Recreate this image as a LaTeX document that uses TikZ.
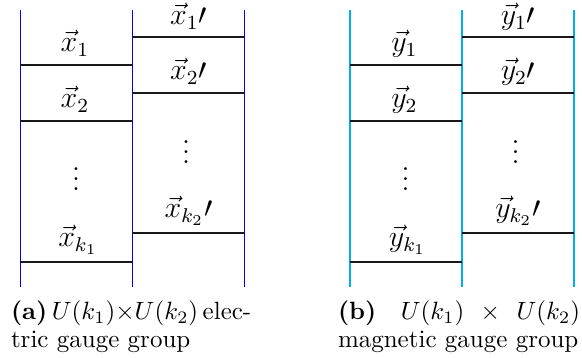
\documentclass[tikz,border=0pt]{standalone}
\usepackage{amsmath}
\begin{document}
\begin{tikzpicture}[x=0.40pt,y=-0.40pt,
  rail/.style={line width=0.75pt},
  rung/.style={line width=0.95pt, black!90},
  lab/.style={anchor=base, inner sep=0pt, outer sep=0pt, font=\fontsize{11.7}{13.5}\selectfont},
  captext/.style={anchor=base west, inner sep=0pt, outer sep=0pt}]
\useasboundingbox (0,0) rectangle (582,358);
\foreach \p/\ox/\col/\v in {a/0/blue/x, b/329.5/cyan/y}{
  \begin{scope}[shift={(\ox,0)}]
    % rails
    \coordinate (\p-t1) at (20.5,10);  \coordinate (\p-b1) at (20.5,287);
    \coordinate (\p-t2) at (132.5,10); \coordinate (\p-b2) at (132.5,287);
    \coordinate (\p-t3) at (244.5,10); \coordinate (\p-b3) at (244.5,287);
    \draw[rail,\col] (\p-t1) -- (\p-b1);
    \draw[rail,\col] (\p-t2) -- (\p-b2);
    \draw[rail,\col] (\p-t3) -- (\p-b3);
    % left column rungs
    \foreach \i/\yy in {1/65,2/121,3/262}{
      \coordinate (\p-L\i a) at (20.5,\yy);
      \coordinate (\p-L\i b) at (132.5,\yy);
      \draw[rung] (\p-L\i a) -- (\p-L\i b);
    }
    % right column rungs
    \foreach \i/\yy in {1/37,2/93,3/233}{
      \coordinate (\p-R\i a) at (132.5,\yy);
      \coordinate (\p-R\i b) at (244.5,\yy);
      \draw[rung] (\p-R\i a) -- (\p-R\i b);
    }
    % labels
    \node[lab] (\p-l1) at (75,52) {$\vec{\v}_1$};
    \node[lab] (\p-l2) at (75,108) {$\vec{\v}_2$};
    \node[lab] (\p-ld) at (76,190.5) {$\vdots$};
    \node[lab] (\p-lk) at (78,247) {$\vec{\v}_{k_1}$};
    \node[lab] (\p-r1) at (188.5,25) {$\vec{\v}_1\prime$};
    \node[lab] (\p-r2) at (188.5,80) {$\vec{\v}_2\prime$};
    \node[lab] (\p-rd) at (186,163.5) {$\vdots$};
    \node[lab] (\p-rk) at (188.5,218) {$\vec{\v}_{k_2}\prime$};
  \end{scope}
}
% captions
\node[captext] (capa1) at (11,320) {\textbf{(a)}\hspace{1.8pt}${U(k_1)}{\times}{U(k_2)}$\hspace{1.8pt}elec-};
\node[captext] (capa2) at (11,348) {tric gauge group};
\node[captext] (capb1) at (338,320) {\hbox to 96.8pt{\textbf{(b)}\hspace{0pt plus 3fil}$U(k_1)$\hspace{0pt plus 2fil}$\times$\hspace{0pt plus 2fil}$U(k_2)$}};
\node[captext] (capb2) at (338,348) {magnetic gauge group};
\end{tikzpicture}
\end{document}
